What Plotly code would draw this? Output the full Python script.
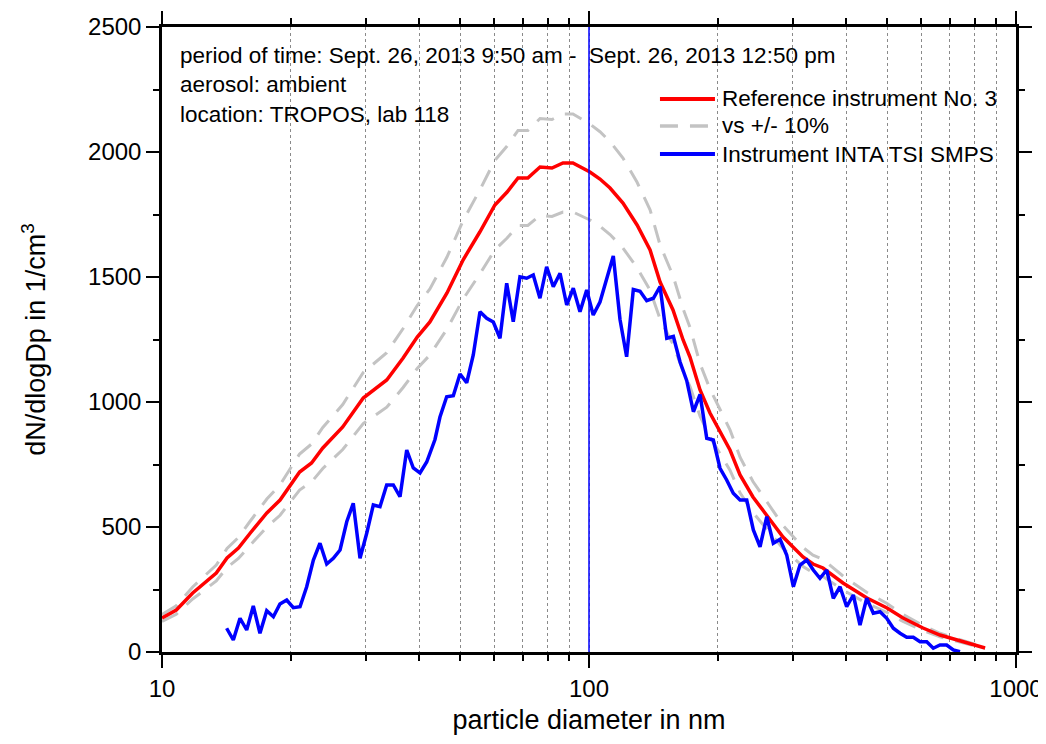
import plotly.graph_objects as go

# ---------------- data ----------------
red_d = [10.0, 10.8, 11.8, 13.4, 14.2, 15.1, 16.1, 17.6, 18.9, 20.2, 21.0, 22.4, 23.8, 26.5, 29.6,
         33.6, 36.7, 39.6, 42.4, 46.5, 50.7, 55.5, 60.2, 64.3, 68.2, 71.9, 76.8, 81.9, 86.9, 91.7,
         95.3, 100.5, 106.1, 112.0, 120.1, 129.6, 139.0, 146.7, 157.3, 166.1, 172.4, 182.0, 192.0,
         213.9, 225.8, 242.1, 261.2, 284.7, 317.1, 334.7, 353.2, 393.4, 447.7, 498.9, 543.8, 605.6,
         663.7, 727.7, 780.6, 846.3]
red_v = [136, 168, 236, 316, 376, 416, 476, 556, 608, 680, 720, 756, 816, 900, 1016,
         1088, 1176, 1260, 1320, 1436, 1568, 1680, 1788, 1840, 1896, 1896, 1940, 1936, 1956, 1956,
         1940, 1920, 1892, 1856, 1796, 1708, 1608, 1480, 1368, 1248, 1180, 1048, 956,
         808, 708, 620, 545, 460, 380, 352, 336, 276, 216, 176, 136, 96,
         68, 48, 32, 16]

band_upper = [150, 185, 260, 348, 414, 458, 524, 612, 669, 748, 792, 832, 898, 990, 1118,
              1197, 1294, 1386, 1452, 1580, 1725, 1848, 1967, 2024, 2086, 2086, 2134, 2130, 2152, 2152,
              2134, 2112, 2081, 2042, 1976, 1879, 1769, 1628, 1505, 1373, 1298, 1153, 1052,
              889, 779, 682, 600, 506, 418, 387, 370, 304, 238, 194, 150, 106,
              75, 53, 35, 18]
band_lower = [122, 151, 212, 284, 338, 374, 428, 500, 547, 612, 648, 680, 734, 810, 914,
              979, 1058, 1134, 1188, 1292, 1411, 1512, 1609, 1656, 1706, 1706, 1746, 1742, 1760, 1760,
              1746, 1728, 1703, 1670, 1616, 1537, 1447, 1332, 1231, 1123, 1062, 943, 860,
              727, 637, 558, 490, 414, 342, 317, 302, 248, 194, 158, 122, 86,
              61, 43, 29, 14]

blue_d = [14.17, 14.69, 15.23, 15.79, 16.36, 16.96, 17.59, 18.23, 18.89, 19.59,
          20.30, 21.05, 21.82, 22.62, 23.44, 24.31, 25.19, 26.12, 27.08, 28.05,
          29.09, 30.16, 31.25, 32.40, 33.59, 34.81, 36.09, 37.42, 38.77, 40.20,
          41.68, 43.58, 44.77, 46.42, 48.11, 49.88, 51.71, 53.58, 55.55, 57.60,
          59.69, 61.88, 64.16, 66.47, 68.91, 71.45, 74.04, 76.76, 79.58, 82.48,
          85.55, 88.68, 91.87, 95.26, 98.76, 102.3, 106.1, 110.0, 114.0, 118.2,
          122.5, 127.0, 131.7, 136.5, 141.5, 146.7, 152.1, 157.6, 163.4, 169.4,
          175.6, 182.0, 188.7, 195.5, 202.7, 210.1, 217.7, 225.8, 234.1, 242.6,
          251.5, 260.8, 270.2, 280.2, 290.4, 301.0, 312.0, 323.5, 335.2, 347.5,
          360.3, 373.4, 387.1, 401.3, 415.9, 431.2, 447.1, 463.3, 480.4, 498.1,
          516.0, 535.0, 554.6, 574.8, 596.0, 617.9, 640.2, 663.7, 688.1, 713.1, 739.4]
blue_v = [95, 48, 135, 88, 184, 75, 165, 141, 192, 208,
          177, 181, 261, 368, 435, 352, 375, 408, 521, 595,
          375, 475, 588, 581, 668, 668, 621, 808, 736, 716,
          760, 850, 940, 1021, 1025, 1112, 1077, 1188, 1361, 1335,
          1320, 1255, 1475, 1321, 1501, 1495, 1508, 1415, 1541, 1461,
          1515, 1388, 1455, 1361, 1448, 1348, 1400, 1490, 1584, 1330,
          1181, 1450, 1443, 1405, 1415, 1462, 1255, 1262, 1160, 1085,
          961, 1030, 855, 848, 735, 688, 635, 608, 608, 488,
          421, 541, 435, 451, 388, 261, 348, 368, 328, 295,
          328, 215, 261, 181, 228, 108, 215, 155, 161, 135,
          95, 75, 59, 59, 41, 41, 15, 28, 28, 8, 1]

x_ticks = [10, 100, 1000]
y_ticks = [0, 500, 1000, 1500, 2000, 2500]
marker_d = 100

legend_names = ["Reference instrument No. 3", "vs +/- 10%", "Instrument INTA TSI SMPS"]

FONT = "Liberation Sans, Arial, sans-serif"
RED = "#ff0000"
BLUE = "#0000ff"
GRAY = "#c3c3c3"

fig = go.Figure()

gray_style = dict(color=GRAY, width=3, dash="18px,12px")
fig.add_trace(go.Scatter(x=red_d, y=band_upper, mode="lines", line=gray_style,
                         name=legend_names[1], showlegend=False))
fig.add_trace(go.Scatter(x=red_d, y=band_lower, mode="lines", line=gray_style,
                         name=legend_names[1], showlegend=False))
fig.add_trace(go.Scatter(x=red_d, y=red_v, mode="lines", line=dict(color=RED, width=3.5),
                         name=legend_names[0], showlegend=False))
fig.add_trace(go.Scatter(x=blue_d, y=blue_v, mode="lines", line=dict(color=BLUE, width=3.5),
                         name=legend_names[2], showlegend=False))

fig.add_shape(type="line", xref="x", yref="paper", x0=marker_d, x1=marker_d, y0=0, y1=1,
              line=dict(color=BLUE, width=1.5), layer="above")

# legend drawn inside the plot (sample line + text), as in the reference
legend_rows = [0.8848, 0.8416, 0.7968]
legend_styles = [dict(color=RED, width=4), dict(color=GRAY, width=3.5, dash="18px,12px"),
                 dict(color=BLUE, width=4)]
for name, yy, st in zip(legend_names, legend_rows, legend_styles):
    fig.add_shape(type="line", xref="paper", yref="paper", x0=0.5831, x1=0.6475, y0=yy, y1=yy,
                  line=st, layer="above")
    fig.add_annotation(xref="paper", yref="paper", x=0.6534, y=yy, xanchor="left", yanchor="middle",
                       showarrow=False, text=name, font=dict(family=FONT, size=22.5, color="black"))

axis_common = dict(showline=True, linecolor="black", linewidth=2.5, mirror="ticks",
                   ticks="outside", tickcolor="black", tickwidth=2, automargin=False,
                   tickfont=dict(family=FONT, size=24, color="black"), zeroline=False)

fig.update_xaxes(type="log", range=[1, 3], tickvals=x_ticks, ticktext=[str(v) for v in x_ticks],
                 ticklen=13, showgrid=False,
                 minor=dict(dtick="D1", ticks="outside", ticklen=6, tickcolor="black", tickwidth=1.5,
                            showgrid=True, gridcolor="#8a8a8a", gridwidth=1, griddash="dot"),
                 title=dict(text="particle diameter in nm", font=dict(family=FONT, size=27, color="black"),
                            standoff=10),
                 **axis_common)
fig.update_yaxes(range=[0, 2500], tickvals=y_ticks, ticklen=13, showgrid=False,
                 minor=dict(dtick=250, ticks="outside", ticklen=6, tickcolor="black", tickwidth=1.5,
                            showgrid=False),
                 title=dict(text="dN/dlogDp in 1/cm<sup>3</sup>", font=dict(family=FONT, size=27, color="black"),
                            standoff=35),
                 **axis_common)

fig.add_annotation(xref="paper", yref="paper", x=0.019, y=0.977, xanchor="left", yanchor="top",
                   align="left", showarrow=False,
                   text="period of time: Sept. 26, 2013 9:50 am -\u00a0\u00a0Sept. 26, 2013 12:50 pm"
                        "<br>aerosol: ambient<br>location: TROPOS, lab 118",
                   font=dict(family=FONT, size=22.5, color="black"))

# the page body has an 8 px margin, so the figure is placed 8 px right/down
fig.update_layout(
    width=1038, height=736,
    margin=dict(l=154, r=30, t=19, b=92),
    paper_bgcolor="white", plot_bgcolor="white",
    font=dict(family=FONT, size=22, color="black"),
    showlegend=False,
)

fig.write_html("out.html")
